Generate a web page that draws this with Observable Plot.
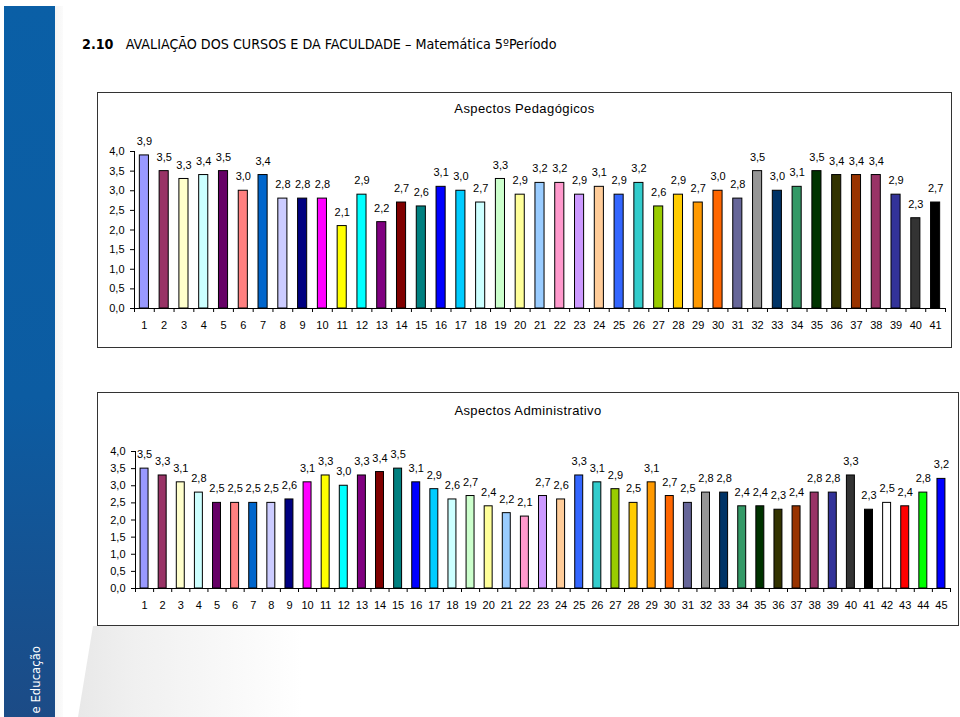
<!DOCTYPE html>
<html><head><meta charset="utf-8">
<script src="https://cdn.jsdelivr.net/npm/d3@7"></script>
<script src="https://cdn.jsdelivr.net/npm/@observablehq/plot@0.6"></script>
<style>
body{margin:0;width:960px;height:717px;position:relative;background:#fff;overflow:hidden;font-family:"Liberation Sans",Arial,sans-serif;color:#000}
.abs{position:absolute}
#side{left:4px;top:6px;width:51px;height:711px;background:linear-gradient(#0a5fa6,#0c5ca2 55%,#1c4b86)}
#strip{left:55px;top:6px;width:8px;height:711px;background:linear-gradient(90deg,#f4f4f4,#fbfbfb)}
#deco{left:62px;top:626px;width:240px;height:91px;background:linear-gradient(90deg,#e6e6e6,#f0f0f0 30%,rgba(255,255,255,0) 100%);clip-path:polygon(31px 0,240px 0,240px 91px,16px 91px)}
#sidetext{left:37px;top:646px;transform-origin:0 0;transform:rotate(-90deg) translate(0,-9px);white-space:nowrap;color:#fff;font-family:"DejaVu Sans Condensed","Liberation Sans Narrow",sans-serif;font-size:13px;line-height:16px}
#pagetitle{left:82px;top:36px;font-family:"Liberation Sans Narrow","DejaVu Sans Condensed",sans-serif;font-size:14.2px;white-space:nowrap}
.box{border:1px solid #333;background:#fff}
.ctitle{font-size:13px;white-space:nowrap;letter-spacing:0.4px}
.box svg{position:absolute;left:0;top:0;overflow:visible}
</style></head>
<body>
<div id="side" class="abs"></div>
<div id="strip" class="abs"></div>
<div id="deco" class="abs"></div>
<div id="sidetext" class="abs"><span style="position:absolute;right:0;top:0">e Educação</span></div>
<div id="pagetitle" class="abs"><b>2.10</b>&nbsp;&nbsp; AVALIAÇÃO DOS CURSOS E DA FACULDADE – Matemática 5ºPeríodo</div>
<div id="box1" class="abs box" style="left:97px;top:92px;width:853px;height:254px">
  <div class="abs ctitle" id="t1" style="left:0;width:853px;text-align:center;top:8px">Aspectos Pedagógicos</div>
</div>
<div id="box2" class="abs box" style="left:97px;top:392px;width:860px;height:232px">
  <div class="abs ctitle" id="t2" style="left:0;width:860px;text-align:center;top:10px">Aspectos Administrativo</div>
</div>
<script>
const palette = ["#9999FF","#993366","#FFFFCC","#CCFFFF","#660066","#FF8080","#0066CC","#CCCCFF","#000080","#FF00FF",
  "#FFFF00","#00FFFF","#800080","#800000","#008080","#0000FF","#00CCFF","#CCFFFF","#CCFFCC","#FFFF99",
  "#99CCFF","#FF99CC","#CC99FF","#FFCC99","#3366FF","#33CCCC","#99CC00","#FFCC00","#FF9900","#FF6600",
  "#666699","#969696","#003366","#339966","#003300","#333300","#993300","#993366","#333399","#333333",
  "#000000","#FFFFFF","#FF0000","#00FF00","#0000FF"];

const pedagogicos = [3.9,3.5,3.3,3.4,3.5,3.0,3.4,2.8,2.8,2.8,2.1,2.9,2.2,2.7,2.6,3.1,3.0,2.7,3.3,2.9,
  3.2,3.2,2.9,3.1,2.9,3.2,2.6,2.9,2.7,3.0,2.8,3.5,3.0,3.1,3.5,3.4,3.4,3.4,2.9,2.3,2.7];

const administrativo = [3.5,3.3,3.1,2.8,2.5,2.5,2.5,2.5,2.6,3.1,3.3,3.0,3.3,3.4,3.5,3.1,2.9,2.6,2.7,2.4,
  2.2,2.1,2.7,2.6,3.3,3.1,2.9,2.5,3.1,2.7,2.5,2.8,2.8,2.4,2.4,2.3,2.4,2.8,2.8,3.3,
  2.3,2.5,2.4,2.8,3.2];

const yTicks = [0,0.5,1,1.5,2,2.5,3,3.5,4];

const fmt = v => v.toFixed(1).replace(".", ",");

function chart({values, width, height, ml, mr, mt, mb, half}) {
  const data = values.map((v, i) => ({k: i + 1, v, c: palette[i]}));
  const n = values.length;
  const cats = data.map(d => d.k);
  const bounds = [0.5, ...cats.map(k => k + 0.5)];
  return Plot.plot({
    width, height,
    marginLeft: ml, marginRight: mr, marginTop: mt, marginBottom: mb,
    style: {fontFamily: "'Liberation Sans', Arial, sans-serif", fontSize: "11px", color: "#000", background: "transparent", overflow: "visible"},
    x: {type: "linear", domain: [0.5, n + 0.5]},
    y: {domain: [0, 4]},
    color: {type: "identity"},
    marks: [
      Plot.axisY({ticks: yTicks, tickFormat: fmt, tickSize: 4, tickPadding: 6, label: null, fontSize: 11}),
      Plot.axisX({ticks: cats, tickFormat: d => String(d), tickSize: 0, tickPadding: 13, label: null, fontSize: 11}),
      Plot.axisX({ticks: bounds, tickFormat: () => "", tickSize: 4, label: null}),
      Plot.rect(data, {x1: d => d.k - half, x2: d => d.k + half, y1: 0, y2: "v", fill: "c", stroke: "#000", strokeWidth: 1}),
      Plot.ruleY([0], {stroke: "#000"}),
      Plot.ruleX([0.5], {stroke: "#000"}),
      Plot.text(data, {x: "k", y: "v", text: d => fmt(d.v), dy: -14, fontSize: 11, fill: "#000"})
    ]
  });
}

document.getElementById("box1").append(chart({values: pedagogicos, width: 853, height: 254, ml: 36, mr: 6, mt: 58, mb: 39, half: 0.23}));
document.getElementById("box2").append(chart({values: administrativo, width: 860, height: 232, ml: 37, mr: 8, mt: 58, mb: 37, half: 0.22}));
</script>
</body></html>
